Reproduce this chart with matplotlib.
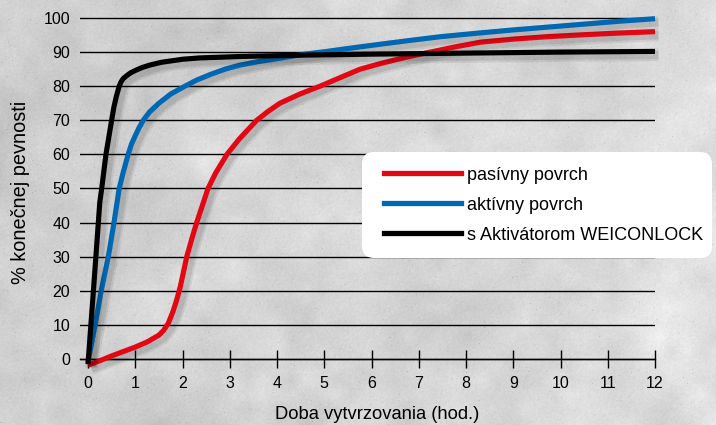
import numpy as np
import matplotlib
matplotlib.use("Agg")
import matplotlib.pyplot as plt
import matplotlib.patheffects as pe
from matplotlib.patches import FancyBboxPatch

plt.rcParams['font.family'] = ['Liberation Sans', 'DejaVu Sans']

# casy (hod.) a % konecnej pevnosti pre kazdy povrch
hod_pasivny = [0, 0.25, 0.5, 0.75, 1.0, 1.25, 1.5, 1.6, 1.7, 1.8, 1.87, 1.95,
               2.02, 2.09, 2.2, 2.3, 2.42, 2.54, 2.7, 2.94, 3.2, 3.57, 3.8,
               4.06, 4.5, 4.91, 5.3, 5.76, 6.18, 6.7, 7.24, 7.8, 8.3, 9.0,
               9.7, 10.5, 11.1, 12]
pev_pasivny = [-1.8, -0.5, 0.9, 2.2, 3.5, 5.0, 7, 8.4, 10.5, 14, 17, 21,
               25.5, 30, 35.4, 40, 45, 50, 54.5, 60, 64.5, 70, 72.5,
               75, 77.8, 80, 82.3, 85, 86.6, 88.4, 90, 91.6, 92.9, 93.8,
               94.5, 95.1, 95.5, 96]

hod_aktivny = [0, 0.15, 0.28, 0.43, 0.55, 0.66, 0.75, 0.85, 0.92, 1.0, 1.08,
               1.17, 1.3, 1.5, 1.75, 2.05, 2.3, 2.6, 2.9, 3.22, 3.6, 4.06,
               4.53, 5.0, 5.47, 6.18, 6.8, 7.45, 8.2, 9.0, 10.5, 11.2, 12]
pev_aktivny = [-1, 10, 20, 30, 40, 50, 55, 60, 63, 65.5, 67.8,
               70, 72.4, 75, 77.7, 80, 81.8, 83.5, 85, 86.2, 87.2, 88.2,
               89.3, 90.1, 91, 92.3, 93.4, 94.5, 95.5, 96.5, 98.2, 99, 99.8]

hod_aktivator = [0, 0.12, 0.25, 0.29, 0.38, 0.5, 0.55, 0.6, 0.66, 0.7, 0.75,
                 0.83, 0.9, 1.0, 1.15, 1.31, 1.55, 1.8, 2.0, 2.37, 2.8, 3.2,
                 4.5, 6, 8, 10, 12]
pev_aktivator = [-1.5, 21, 46, 50, 60, 70, 74, 77, 80, 81.3, 82.3,
                 83.2, 83.9, 84.6, 85.5, 86.2, 87.0, 87.5, 87.9, 88.3, 88.5, 88.7,
                 89.1, 89.4, 89.7, 90, 90.2]

popisky = ['pasívny povrch', 'aktívny povrch', 's Aktivátorom WEICONLOCK']
farby = ['#e30613', '#0068b3', '#000000']
x_ticky = list(range(0, 13))
y_ticky = list(range(0, 101, 10))

W, H = 716, 425


def zvacsi(mala, h, w):
    # bilinearne zvacsenie malej mriezky na h x w
    ys = np.linspace(0, mala.shape[0] - 1, h)
    xs = np.linspace(0, mala.shape[1] - 1, w)
    riadky = np.array([np.interp(xs, np.arange(mala.shape[1]), r) for r in mala])
    return np.array([np.interp(ys, np.arange(mala.shape[0]), c) for c in riadky.T]).T


fig = plt.figure(figsize=(W / 100, H / 100), dpi=100)

# betonove pozadie
rng = np.random.default_rng(7)
hrube = zvacsi(rng.normal(0, 1, (9, 15)), H, W)
stredne = zvacsi(rng.normal(0, 1, (30, 50)), H, W)
jemne = rng.normal(0, 1, (H, W))
jemne = (jemne + np.roll(jemne, 1, 0) + np.roll(jemne, 1, 1)) / 3
bodky = (rng.random((H, W)) > 0.998) * -0.10
gx = np.linspace(-0.035, 0.02, W)[None, :]
pozadie = 0.85 + 0.025 * hrube + 0.015 * stredne + 0.016 * jemne + gx + bodky
pozadie = np.clip(pozadie, 0, 1)
bg = fig.add_axes([0, 0, 1, 1], zorder=-1)
bg.imshow(np.dstack([pozadie] * 3), aspect='auto', interpolation='bilinear')
bg.axis('off')

# os: x=0 na 88 px, x=12 na 655 px, y=0 na 359 px, y=100 na 18 px
ylo, yhi = -4, 101
px_y = 3.41
bottom_px = 359 + (-ylo) * px_y
top_px = 18 - (yhi - 100) * px_y
ax = fig.add_axes([80 / W, (H - bottom_px) / H, 575 / W, (bottom_px - top_px) / H],
                  zorder=1)
ax.patch.set_alpha(0)
ax.set_xlim(-8 / 47.25, 12)
ax.set_ylim(ylo, yhi)

for s in ['top', 'right', 'left']:
    ax.spines[s].set_visible(False)
ax.spines['bottom'].set_position(('data', 0))
ax.spines['bottom'].set_linewidth(1.0)

ax.set_xticks(x_ticky)
ax.set_yticks(y_ticky)
ax.tick_params(axis='x', direction='inout', length=13, width=1.0, pad=6,
               labelsize=11.5, colors='black')
ax.tick_params(axis='y', length=0, pad=7, labelsize=11.5)
ax.yaxis.grid(True, color='black', linewidth=1.0)
ax.set_axisbelow(True)

tien = [pe.SimpleLineShadow(offset=(2.5, -2.5), shadow_color='black', alpha=0.07, linewidth=9),
        pe.SimpleLineShadow(offset=(2.5, -2.5), shadow_color='black', alpha=0.09, linewidth=6),
        pe.Normal()]

serie = [(hod_pasivny, pev_pasivny), (hod_aktivny, pev_aktivny),
         (hod_aktivator, pev_aktivator)]
for (xs, ys), farba, popis in zip(serie, farby, popisky):
    ax.plot(xs, ys, color=farba, linewidth=3.7, solid_capstyle='butt',
            solid_joinstyle='round', label=popis, path_effects=tien,
            clip_on=False, zorder=3)

# biely box legendy
box = FancyBboxPatch((362 / 100, (H - 258) / 100), 350 / 100, 106 / 100,
                     boxstyle='round,pad=0,rounding_size=0.12',
                     transform=fig.dpi_scale_trans, facecolor='white',
                     edgecolor='none', zorder=4, clip_on=False)
ax.add_patch(box)

handles = [plt.Line2D([], [], color=f, linewidth=3.8) for f in farby]
leg = ax.legend(handles, popisky, loc='center left',
                bbox_to_anchor=(384 / W, 1 - 205 / H), bbox_transform=fig.transFigure,
                frameon=False, fontsize=13, handlelength=4.26, handletextpad=0.33,
                labelspacing=0.72, borderpad=0, borderaxespad=0)
leg.set_zorder(5)

fig.text(21 / W, 1 - 192 / H, '% konečnej pevnosti', rotation=90,
         ha='center', va='center', fontsize=14.3)
fig.text(377 / W, (H - 419) / H, 'Doba vytvrzovania (hod.)',
         ha='center', va='baseline', fontsize=13.2)

fig.savefig('out.png', dpi=100)
